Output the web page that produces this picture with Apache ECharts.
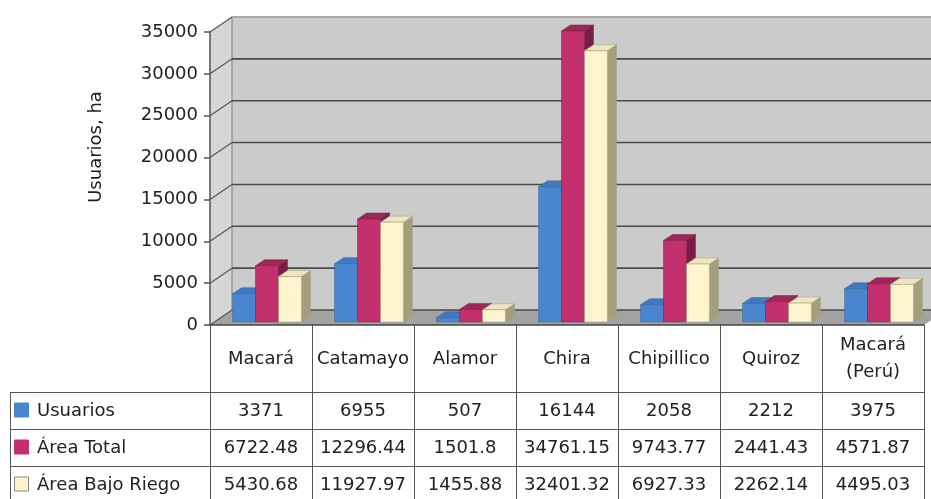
<!DOCTYPE html>
<html>
<head>
<meta charset="utf-8">
<script src="https://cdn.jsdelivr.net/npm/echarts@6/dist/echarts.min.js"></script>
<style>
html,body{margin:0;padding:0;background:#fff;}
#chart{width:931px;height:499px;}
</style>
</head>
<body>
<div id="chart"></div>
<script>
// ---- data ----
const categories = ['Macará', 'Catamayo', 'Alamor', 'Chira', 'Chipillico', 'Quiroz', 'Macará\n(Perú)'];
const usuarios = [3371, 6955, 507, 16144, 2058, 2212, 3975];
const areaTotal = [6722.48, 12296.44, 1501.8, 34761.15, 9743.77, 2441.43, 4571.87];
const areaBajoRiego = [5430.68, 11927.97, 1455.88, 32401.32, 6927.33, 2262.14, 4495.03];
const seriesNames = ['Usuarios', 'Área Total', 'Área Bajo Riego'];
const yTicks = [0, 5000, 10000, 15000, 20000, 25000, 30000, 35000];
const yAxisTitle = 'Usuarios, ha';

// ---- styling ----
const FONT = 'DejaVu Sans';
const TXT = '#222';
const palette = [
  {front: '#4a86cf', top: '#4079c2', side: '#34629c', key: '#4a86cf', keyBorder: '#4a86cf'},
  {front: '#c4306e', top: '#9c2858', side: '#7a1d46', key: '#c4306e', keyBorder: '#c4306e'},
  {front: '#fdf3cd', top: '#efe5c2', side: '#a39e7e', key: '#fdf3cd', keyBorder: '#888'}
];
const WALL_DX = 22, WALL_DY = -15;
const BAR_SHIFT_X = 6, BAR_SHIFT_Y = -3, BAR_DX = 9, BAR_DY = -6, BAR_W = 0.225;

const seriesData = [usuarios, areaTotal, areaBajoRiego];

const chart = echarts.init(document.getElementById('chart'));

function wallsRender(params, api) {
  const cs = params.coordSys;
  const y0 = api.coord([0, 0])[1];
  const yMax = api.coord([0, yTicks[yTicks.length - 1]])[1];
  const xL = cs.x, xR = cs.x + cs.width;
  return {
    type: 'group',
    children: [
      {type: 'polygon', shape: {points: [[xL + WALL_DX, yMax + WALL_DY], [xR + WALL_DX, yMax + WALL_DY], [xR + WALL_DX, y0 + WALL_DY], [xL + WALL_DX, y0 + WALL_DY]]}, style: {fill: '#cbcbcb'}},
      {type: 'polygon', shape: {points: [[xL, yMax], [xL + WALL_DX, yMax + WALL_DY], [xL + WALL_DX, y0 + WALL_DY], [xL, y0]]}, style: {fill: '#d6d6d6'}},
      {type: 'polygon', shape: {points: [[xL, y0], [xL + WALL_DX, y0 + WALL_DY], [xR + WALL_DX, y0 + WALL_DY], [xR, y0]]}, style: {fill: '#a2a2a2'}},
      {type: 'line', shape: {x1: xL + WALL_DX, y1: yMax + WALL_DY, x2: xL + WALL_DX, y2: y0 + WALL_DY}, style: {stroke: '#9a9a9a', lineWidth: 1.5}},
      {type: 'line', shape: {x1: xL + WALL_DX, y1: yMax + WALL_DY, x2: xR + WALL_DX, y2: yMax + WALL_DY}, style: {stroke: '#a8a8a8', lineWidth: 2}}
    ]
  };
}

function gridRender(params, api) {
  const cs = params.coordSys;
  const y = api.coord([0, api.value(1)])[1];
  const xL = cs.x, xR = cs.x + cs.width;
  const children = [
    {type: 'line', shape: {x1: xL, y1: y, x2: xL + WALL_DX, y2: y + WALL_DY}, style: {stroke: '#555', lineWidth: 1.2}}
  ];
  if (api.value(1) !== yTicks[yTicks.length - 1]) {
    children.push({type: 'line', shape: {x1: xL + WALL_DX, y1: y + WALL_DY, x2: xR + WALL_DX, y2: y + WALL_DY}, style: {stroke: '#4a4a4a', lineWidth: 1.6}});
  }
  return {type: 'group', children};
}

function makeBarRender(k) {
  const c = palette[k];
  return function (params, api) {
    const ci = api.value(0), v = api.value(1);
    const base = api.coord([ci, 0]);
    const top = api.coord([ci, v]);
    const band = api.size([1, 0])[0];
    const w = band * BAR_W;
    const x0 = base[0] - 1.5 * w + k * w + BAR_SHIFT_X;
    const x1 = x0 + w;
    const yb = base[1] + BAR_SHIFT_Y;
    const yt = top[1] + BAR_SHIFT_Y;
    return {
      type: 'group',
      children: [
        {type: 'polygon', shape: {points: [[x1, yt], [x1 + BAR_DX, yt + BAR_DY], [x1 + BAR_DX, yb + BAR_DY], [x1, yb]]}, style: {fill: c.side, stroke: c.side, lineWidth: 0.5}},
        {type: 'polygon', shape: {points: [[x0, yt], [x1, yt], [x1 + BAR_DX, yt + BAR_DY], [x0 + BAR_DX, yt + BAR_DY]]}, style: {fill: c.top, stroke: c.side, lineWidth: 0.5}},
        {type: 'rect', shape: {x: x0, y: yt, width: w, height: yb - yt}, style: {fill: c.front, stroke: c.side, lineWidth: 0.5}}
      ]
    };
  };
}

const barSeries = seriesData.map((arr, k) => ({
  type: 'custom',
  name: seriesNames[k],
  renderItem: makeBarRender(k),
  encode: {x: 0, y: 1},
  clip: false,
  z: 5,
  data: arr.map((v, i) => [i, v])
}));

chart.setOption({
  animation: false,
  grid: {left: 210, right: 7, top: 32, bottom: 174},
  xAxis: {
    type: 'category',
    data: categories,
    boundaryGap: true,
    axisLine: {show: true, lineStyle: {color: '#444', width: 1.5}},
    axisTick: {show: false},
    axisLabel: {interval: 0, fontFamily: FONT, fontSize: 18, color: TXT, verticalAlign: 'middle', margin: 34, lineHeight: 27},
    z: 10
  },
  yAxis: {
    type: 'value',
    min: 0, max: 35000, interval: 5000,
    axisLine: {show: true, lineStyle: {color: '#555', width: 1.5}},
    axisTick: {show: true, length: 6, lineStyle: {color: '#555', width: 1.5}},
    axisLabel: {fontFamily: FONT, fontSize: 18, color: TXT, margin: 12, formatter: v => String(v)},
    splitLine: {show: false},
    z: 10
  },
  series: [
    {type: 'custom', name: 'walls', renderItem: wallsRender, encode: {x: 0, y: 1}, data: [[0, 0]], clip: false, z: 1, silent: true},
    {type: 'custom', name: 'gridlines', renderItem: gridRender, encode: {x: 0, y: 1}, data: yTicks.map(v => [0, v]), clip: false, z: 2, silent: true}
  ].concat(barSeries)
});

// ---- data table below the chart ----
function buildTable() {
  const centers = categories.map((c, i) => chart.convertToPixel({xAxisIndex: 0}, i));
  const band = centers.length > 1 ? centers[1] - centers[0] : 100;
  const edges = centers.map(c => c - band / 2).concat([centers[centers.length - 1] + band / 2]);
  const yAxisPx = chart.convertToPixel({yAxisIndex: 0}, 0);
  const headerBottom = 392, rowH = 37, tableLeft = 10, bottom = 510;
  const rowTops = [headerBottom, headerBottom + rowH, headerBottom + 2 * rowH];
  const g = [];
  const lineStyle = {stroke: '#555', lineWidth: 1};
  const crisp = v => Math.round(v) + 0.5;
  edges.forEach(x => g.push({type: 'line', shape: {x1: crisp(x), y1: yAxisPx, x2: crisp(x), y2: bottom}, style: lineStyle, z: 20}));
  rowTops.forEach(y => g.push({type: 'line', shape: {x1: tableLeft, y1: crisp(y), x2: edges[edges.length - 1], y2: crisp(y)}, style: lineStyle, z: 20}));
  g.push({type: 'line', shape: {x1: crisp(tableLeft), y1: headerBottom, x2: crisp(tableLeft), y2: bottom}, style: lineStyle, z: 20});
  seriesData.forEach((arr, k) => {
    const cy = rowTops[k] + rowH / 2;
    g.push({type: 'rect', shape: {x: 14.5, y: cy - 7.5, width: 14, height: 14}, style: {fill: palette[k].key, stroke: palette[k].keyBorder, lineWidth: 1}, z: 20});
    g.push({type: 'text', x: 37, y: cy + 1, style: {text: seriesNames[k], font: '18px "' + FONT + '"', fill: TXT, align: 'left', verticalAlign: 'middle'}, z: 20});
    arr.forEach((v, i) => {
      g.push({type: 'text', x: centers[i], y: cy + 1, style: {text: String(v), font: '18px "' + FONT + '"', fill: TXT, align: 'center', verticalAlign: 'middle'}, z: 20});
    });
  });
  g.push({type: 'text', x: 96, y: 147, rotation: Math.PI / 2, style: {text: yAxisTitle, font: '18px "' + FONT + '"', fill: TXT, align: 'center', verticalAlign: 'middle'}, z: 20});
  chart.setOption({graphic: g});
}
buildTable();
</script>
</body>
</html>
